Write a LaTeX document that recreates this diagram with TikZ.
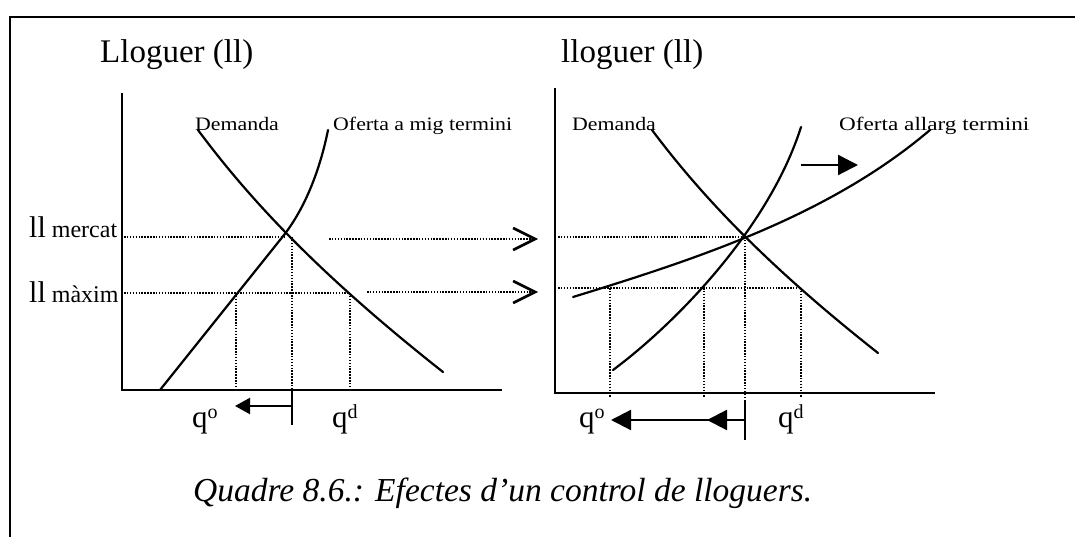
\documentclass[tikz,border=0pt]{standalone}
\usepackage{fontspec}
\usepackage{graphicx}
\setmainfont{Liberation Serif}
\usetikzlibrary{arrows.meta}
\newcommand\sxbox[2]{\scalebox{#1}[1]{#2}}
\newcommand\qsup[1]{{\fontsize{31}{36}\selectfont q\raisebox{9pt}{\fontsize{20}{24}\selectfont #1}}}
\begin{document}
\begin{tikzpicture}[x=1pt,y=-1pt,
  frameline/.style={line width=2.4pt},
  axisline/.style={line width=2.6pt},
  curveline/.style={line width=2.2pt, line cap=round},
  dotline/.style={line width=1.7pt, dash pattern=on 1.5pt off 1.4pt},
  dotarrow/.style={dotline, -{Straight Barb[length=22pt,width=22pt,line width=2.6pt]}},
  tickline/.style={line width=2pt},
  shiftarrow/.style={line width=2.2pt, -{Triangle[length=15pt,width=16pt]}},
  bigarrow/.style={line width=2.2pt, -{Triangle[length=20pt,width=20pt]}},
  lbl/.style={anchor=base west, inner sep=0pt},
  titlefont/.style={font=\fontsize{33}{40}\selectfont},
  curvefont/.style={font=\fontsize{19}{22}\selectfont},
]
\useasboundingbox (0,0) rectangle (1075,537);
\fill[white] (0,0) rectangle (1075,537);

% frame
\coordinate (fTR) at (1075,17);
\coordinate (fTL) at (10,17);
\coordinate (fBL) at (10,537);
\draw[frameline] (fTR) -- (fTL) -- (fBL);

% ---------------- left panel ----------------
\coordinate (LyT) at (122,93);
\coordinate (LO) at (122,390);
\coordinate (LxR) at (502,390);
\draw[axisline] (LyT) -- (LO) -- (LxR);

\node[lbl, titlefont] (Ltitle) at (100,63) {Lloguer (ll)};
\node[lbl, curvefont] (Ldem) at (195,131) {\sxbox{1.15}{Demanda}};
\node[lbl, curvefont] (Lsup) at (333,131) {\sxbox{1.15}{Oferta a mig termini}};

% demand and supply (left)
\draw[curveline] (198,130) .. controls (250,200) and (320,275) .. (443,372);
\draw[curveline] (160,390) -- (284,235) .. controls (305,208) and (320,170) .. (328,130);

\coordinate (LmerA) at (124,237);
\coordinate (LmerB) at (284,237);
\coordinate (LmaxA) at (124,293);
\coordinate (LmaxB) at (350,293);
\draw[dotline] (LmerA) -- (LmerB);
\draw[dotline] (LmaxA) -- (LmaxB);
\coordinate (Lv1a) at (236,293); \coordinate (Lv1b) at (236,390);
\coordinate (Lv2a) at (350,293); \coordinate (Lv2b) at (350,390);
\coordinate (Lv3a) at (292,237); \coordinate (Lv3b) at (292,390);
\coordinate (Ltick) at (292,425);
\draw[dotline] (Lv1a) -- (Lv1b);
\draw[dotline] (Lv2a) -- (Lv2b);
\draw[dotline] (Lv3a) -- (Lv3b);
\draw[tickline] (Lv3b) -- (Ltick);

\coordinate (LarS) at (292,406);
\coordinate (LarE) at (235,406);
\draw[shiftarrow] (LarS) -- (LarE);

\node[lbl] (Lmer) at (29,237) {{\fontsize{30}{36}\selectfont ll}{\fontsize{24}{28}\selectfont\ mercat}};
\node[lbl] (Lmax) at (29,302) {{\fontsize{30}{36}\selectfont ll}{\fontsize{24}{28}\selectfont\ màxim}};
\node[lbl] (Lqo) at (192,427) {\qsup{o}};
\node[lbl] (Lqd) at (332,427) {\qsup{d}};

% dotted transfer arrows
\coordinate (A1s) at (329,239); \coordinate (A1e) at (538,239);
\coordinate (A2s) at (367,292); \coordinate (A2e) at (538,292);
\draw[dotarrow] (A1s) -- (A1e);
\draw[dotarrow] (A2s) -- (A2e);

% ---------------- right panel ----------------
\coordinate (RyT) at (555,88);
\coordinate (RO) at (555,393);
\coordinate (RxR) at (935,393);
\draw[axisline] (RyT) -- (RO) -- (RxR);

\node[lbl, titlefont] (Rtitle) at (561,63) {lloguer (ll)};
\node[lbl, curvefont] (Rdem) at (572,131) {\sxbox{1.15}{Demanda}};
\node[lbl, curvefont] (Rsup) at (839,131) {\sxbox{1.22}{Oferta allarg termini}};

\draw[curveline] (652,130) .. controls (700,194) and (765,264) .. (878,353);
\draw[curveline] (613,370) .. controls (680,320) and (770,225) .. (801,127);
\draw[curveline] (573,297) .. controls (700,258) and (830,215) .. (930,130);

\coordinate (RmerA) at (558,237); \coordinate (RmerB) at (745,237);
\coordinate (RmaxA) at (558,288); \coordinate (RmaxB) at (801,288);
\draw[dotline] (RmerA) -- (RmerB);
\draw[dotline] (RmaxA) -- (RmaxB);
\coordinate (Rv1a) at (610,288); \coordinate (Rv1b) at (610,397);
\coordinate (Rv2a) at (704,288); \coordinate (Rv2b) at (704,397);
\coordinate (Rv3a) at (801,288); \coordinate (Rv3b) at (801,397);
\coordinate (Rv4a) at (745,237); \coordinate (Rv4b) at (745,398);
\coordinate (Rtick0) at (745,400); \coordinate (Rtick) at (745,440);
\draw[dotline] (Rv1a) -- (Rv1b);
\draw[dotline] (Rv2a) -- (Rv2b);
\draw[dotline] (Rv3a) -- (Rv3b);
\draw[dotline] (Rv4a) -- (Rv4b);
\draw[tickline] (Rtick0) -- (Rtick);

\coordinate (RarS) at (745,420);
\coordinate (RarM) at (707,420);
\coordinate (RarE) at (611,420);
\draw[bigarrow] (RarS) -- (RarE);
\draw[bigarrow] (RarS) -- (RarM);

\coordinate (RsS) at (801,165);
\coordinate (RsE) at (858,165);
\draw[bigarrow] (RsS) -- (RsE);

\node[lbl] (Rqo) at (579,427) {\qsup{o}};
\node[lbl] (Rqd) at (778,427) {\qsup{d}};

% caption
\node[lbl, font=\fontsize{33.5}{40}\selectfont\itshape] (cap) at (193,501) {Quadre 8.6.: Efectes d’un control de lloguers.};
\end{tikzpicture}
\end{document}
